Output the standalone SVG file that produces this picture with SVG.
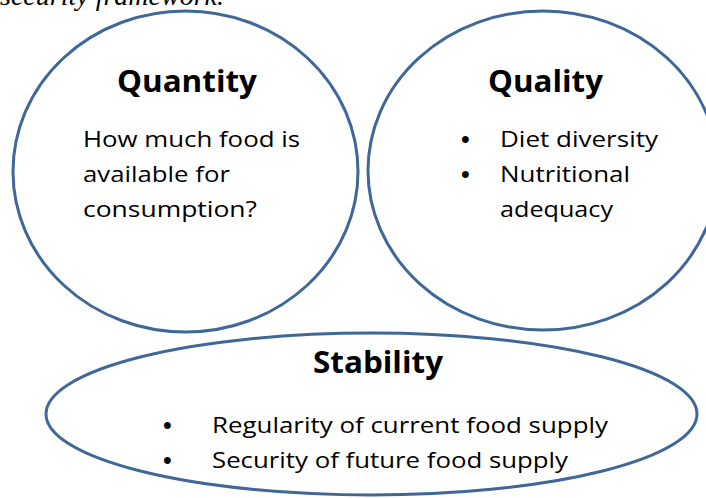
<svg xmlns="http://www.w3.org/2000/svg" width="706" height="498" viewBox="0 0 706 498">
  <style>
    .ring { fill: none; stroke: #3F6797; stroke-width: 3; }
    .title { font-family: "Open Sans", "Liberation Sans", sans-serif; font-weight: bold; font-size: 30.5px; fill: #000; }
    .body { font-family: "Open Sans", "Liberation Sans", sans-serif; font-size: 21px; fill: #000; }
    .dot { font-family: "Liberation Sans", sans-serif; font-size: 25px; fill: #000; }
    .cap { font-family: "Liberation Serif", serif; font-style: italic; font-size: 28px; fill: #000; }
  </style>
  <rect width="706" height="498" fill="#fff"/>
  <text class="cap" x="224" y="5" text-anchor="end">security framework.</text>
  <g id="quantity">
    <ellipse class="ring" cx="185.5" cy="171.5" rx="172.5" ry="160.5"/>
    <text class="title" x="117" y="92" textLength="140" lengthAdjust="spacingAndGlyphs">Quantity</text>
    <text class="body" x="83" y="147" textLength="217" lengthAdjust="spacingAndGlyphs">How much food is</text>
    <text class="body" x="83" y="182" textLength="147" lengthAdjust="spacingAndGlyphs">available for</text>
    <text class="body" x="83" y="217" textLength="174" lengthAdjust="spacingAndGlyphs">consumption?</text>
  </g>
  <g id="quality">
    <ellipse class="ring" cx="543" cy="170.5" rx="175" ry="159.5"/>
    <text class="title" x="488" y="92" textLength="115" lengthAdjust="spacingAndGlyphs">Quality</text>
    <text class="dot" x="461" y="148">•</text>
    <text class="body" x="500" y="147" textLength="158" lengthAdjust="spacingAndGlyphs">Diet diversity</text>
    <text class="dot" x="461" y="183">•</text>
    <text class="body" x="500" y="182" textLength="130" lengthAdjust="spacingAndGlyphs">Nutritional</text>
    <text class="body" x="500" y="217" textLength="113" lengthAdjust="spacingAndGlyphs">adequacy</text>
  </g>
  <g id="stability">
    <ellipse class="ring" cx="371.5" cy="414" rx="325.5" ry="81"/>
    <text class="title" x="313" y="373" textLength="130" lengthAdjust="spacingAndGlyphs">Stability</text>
    <text class="dot" x="163" y="434">•</text>
    <text class="body" x="212" y="433" textLength="396" lengthAdjust="spacingAndGlyphs">Regularity of current food supply</text>
    <text class="dot" x="163" y="469">•</text>
    <text class="body" x="212" y="468" textLength="356" lengthAdjust="spacingAndGlyphs">Security of future food supply</text>
  </g>
  <g id="connectors"/>
</svg>
